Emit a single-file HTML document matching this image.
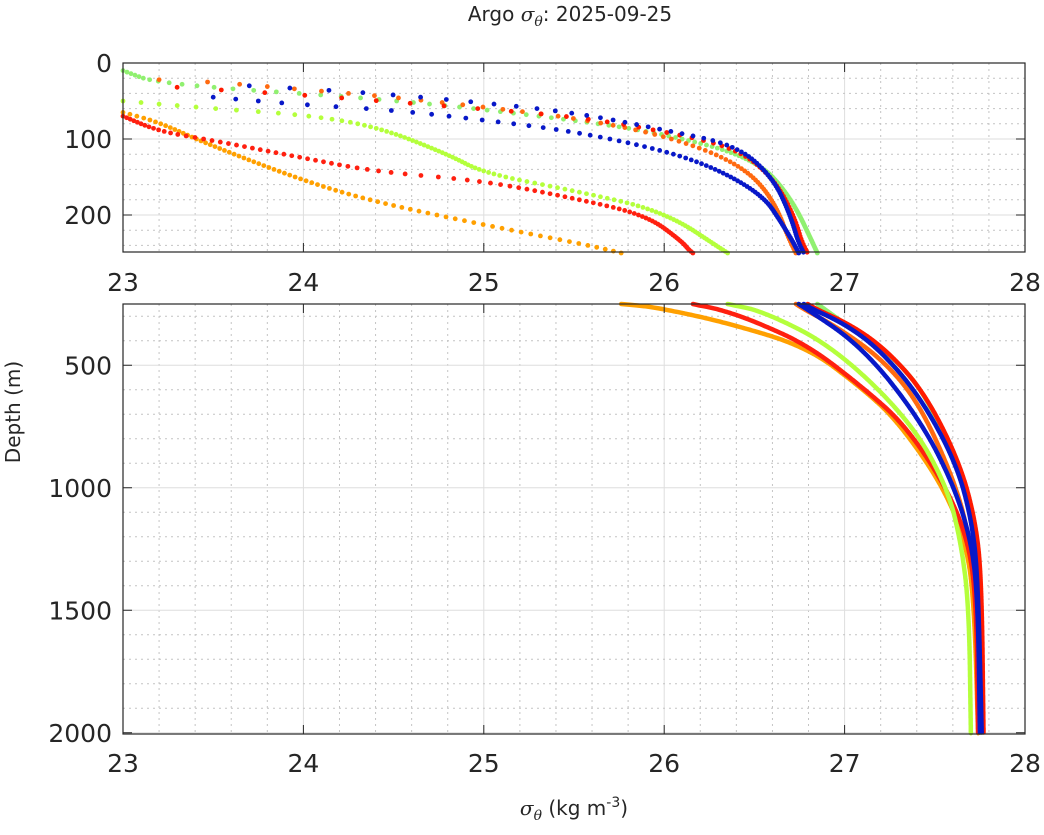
<!DOCTYPE html>
<html><head><meta charset="utf-8"><style>
html,body{margin:0;padding:0;background:#fff;}
svg{display:block;font-family:"DejaVu Sans","Liberation Sans",sans-serif;}
</style></head><body>
<svg id="s" width="1044" height="835" xmlns="http://www.w3.org/2000/svg"></svg>
<script>
const S=document.getElementById('s');const NS='http://www.w3.org/2000/svg';
function el(t,a,p){const e=document.createElementNS(NS,t);for(const k in a)e.setAttribute(k,a[k]);(p||S).appendChild(e);return e;}
const X0=123,X1=1025;const sx=v=>X0+(v-23)*(X1-X0)/5;
const T0=63,T1=252;const tyf=d=>T0+d*0.76;
const B0=304,B1=734;const byf=d=>B0+(d-250)*0.245;
function grid(y0,y1,ymin,ymax,yf,major,minor){
  for(let v=23.2;v<28;v+=0.2){if(Math.abs(v-Math.round(v))<0.01)continue;el('line',{x1:sx(v),x2:sx(v),y1:y0,y2:y1,stroke:'#c4c4c4','stroke-width':1,'stroke-dasharray':'2,4'});}
  for(let v=24;v<28;v++)el('line',{x1:sx(v),x2:sx(v),y1:y0,y2:y1,stroke:'#dedede','stroke-width':1});
  for(let d=Math.ceil(ymin/minor)*minor;d<=ymax;d+=minor){const y=yf(d);if(y<=y0||y>=y1)continue;
    if(d%major==0)el('line',{x1:X0,x2:X1,y1:y,y2:y,stroke:'#dedede','stroke-width':1});
    else el('line',{x1:X0,x2:X1,y1:y,y2:y,stroke:'#c4c4c4','stroke-width':1,'stroke-dasharray':'2,4'});}
}
grid(T0,T1,0,250,tyf,100,20);
grid(B0,B1,250,2005,byf,500,100);
function chaikin(k,n){let p=k.map(a=>[a[0],a[1]]);for(let it=0;it<n;it++){const q=[p[0]];for(let i=0;i<p.length-1;i++){const a=p[i],b=p[i+1];q.push([a[0]*0.75+b[0]*0.25,a[1]*0.75+b[1]*0.25]);q.push([a[0]*0.25+b[0]*0.75,a[1]*0.25+b[1]*0.75]);}q.push(p[p.length-1]);p=q;}return p;}
function interp(k,d){for(let i=0;i<k.length-1;i++){if(d>=k[i][1]&&d<=k[i+1][1]){const t=(d-k[i][1])/(k[i+1][1]-k[i][1]||1);return k[i][0]+t*(k[i+1][0]-k[i][0]);}}return null;}
const series=[
 {c:'#90f070',k:[[23,10],[23.2,28],[24.5,48],[25.5,75],[26,93],[26.5,125],[26.7,175],[26.85,250],[27.0,330],[27.25,450],[27.45,620],[27.62,900],[27.72,1150],[27.76,1450],[27.76,2000]],gap:2},
 {c:'#ff6a10',k:[[23.2,22],[23.5,25],[24,35],[24.5,45],[25,58],[25.5,72],[26,95],[26.4,130],[26.6,175],[26.72,250],[26.95,340],[27.2,470],[27.4,640],[27.58,920],[27.68,1150],[27.73,1450],[27.75,2000]],gap:3},
 {c:'#ffa000',k:[[23,65],[23.2,78],[23.45,105],[24,155],[24.4,183],[25,213],[25.8,250],[26.0,270],[26.35,327],[26.79,425],[27.08,584],[27.29,723],[27.55,997],[27.68,1241],[27.72,1500],[27.74,2005]],gap:2.5},
 {c:'#ff2010',k:[[23,70],[23.2,90],[23.5,102],[24,125],[24.4,143],[25,155],[25.5,178],[25.9,200],[26.1,235],[26.15,250],[26.3,270],[26.5,320],[26.8,420],[27.1,590],[27.33,740],[27.55,980],[27.68,1200],[27.73,1450],[27.74,2000]],gap:2},
 {c:'#b4ff3c',k:[[23,50],[23.5,60],[24,68],[24.4,83],[24.8,120],[25,145],[25.5,168],[26,195],[26.35,250],[26.55,280],[26.94,425],[27.36,723],[27.57,997],[27.65,1241],[27.69,1500],[27.7,2005]],gap:2},
 {c:'#0818c8',k:[[23.5,45],[24,55],[24.5,62],[25,75],[25.5,90],[26,115],[26.3,140],[26.55,175],[26.65,210],[26.75,250],[27.1,425],[27.42,723],[27.61,997],[27.71,1241],[27.74,1500],[27.75,2000]],gap:2.5},
 {c:'#ff1a00',k:[[23.3,32],[24,42],[24.7,55],[25.5,70],[26,90],[26.4,112],[26.6,150],[26.72,200],[26.78,250],[27.05,340],[27.25,450],[27.45,620],[27.64,900],[27.73,1150],[27.76,1400],[27.77,2000]],gap:3.5},
 {c:'#0818c8',k:[[23.7,30],[24.3,38],[24.9,50],[25.5,65],[26,88],[26.4,108],[26.6,150],[26.7,200],[26.76,250],[27.0,330],[27.2,440],[27.42,630],[27.62,900],[27.71,1150],[27.74,1400],[27.76,2000]],gap:3}
];
const gT=el('g',{});const gB=el('g',{});
for(const s of series){
  const k=chaikin(s.k,4);
  const dmin=s.k[0][1];let pts=[];
  for(let d=dmin;d<=250;d+=s.gap){const v=interp(k,d);if(v==null||v<23)continue;el('circle',{cx:sx(v),cy:tyf(d),r:2.4,fill:s.c},gT);}
  for(let d=250;d<=2002;d+=3){const v=interp(k,d);if(v==null)continue;pts.push(sx(v).toFixed(1)+','+byf(d).toFixed(1));}
  el('polyline',{points:pts.join(' '),fill:'none',stroke:s.c,'stroke-width':4.5,'stroke-linecap':'round','stroke-linejoin':'round'},gB);
}
el('rect',{x:X0,y:T0,width:X1-X0,height:T1-T0,fill:'none',stroke:'#262626','stroke-width':1.2});
el('rect',{x:X0,y:B0,width:X1-X0,height:B1-B0,fill:'none',stroke:'#262626','stroke-width':1.2});
function txt(x,y,t,sz,anc){const e=el('text',{x:x,y:y,'font-size':sz,fill:'#262626','text-anchor':anc||'middle'});e.textContent=t;return e;}
for(let v=23;v<=28;v++){
  txt(sx(v),291,String(v),25);txt(sx(v),772,String(v),25);
  for(const [a,b] of [[T0,T1],[B0,B1]]){el('line',{x1:sx(v),x2:sx(v),y1:a,y2:a+9,stroke:'#262626'});el('line',{x1:sx(v),x2:sx(v),y1:b,y2:b-9,stroke:'#262626'});}
}
for(const d of [0,100,200]){txt(112,tyf(d)+9,String(d),25,'end');el('line',{x1:X0,x2:X0+9,y1:tyf(d),y2:tyf(d),stroke:'#262626'});el('line',{x1:X1,x2:X1-9,y1:tyf(d),y2:tyf(d),stroke:'#262626'});}
for(const d of [500,1000,1500,2000]){txt(112,byf(d)+9,String(d),25,'end');el('line',{x1:X0,x2:X0+9,y1:byf(d),y2:byf(d),stroke:'#262626'});el('line',{x1:X1,x2:X1-9,y1:byf(d),y2:byf(d),stroke:'#262626'});}
</script>
<svg width="1044" height="835" style="position:absolute;left:0;top:0" xmlns="http://www.w3.org/2000/svg">
<text x="570" y="21" font-size="20" fill="#262626" text-anchor="middle" font-family="DejaVu Sans, Liberation Sans, sans-serif">Argo <tspan font-style="italic" font-family="DejaVu Serif, Liberation Serif, serif">σ</tspan><tspan font-style="italic" font-size="14" dy="5" font-family="DejaVu Serif, Liberation Serif, serif">θ</tspan><tspan dy="-5">: 2025-09-25</tspan></text>
<text x="574" y="815" font-size="20" fill="#262626" text-anchor="middle" font-family="DejaVu Sans, Liberation Sans, sans-serif"><tspan font-style="italic" font-family="DejaVu Serif, Liberation Serif, serif">σ</tspan><tspan font-style="italic" font-size="14" dy="5" font-family="DejaVu Serif, Liberation Serif, serif">θ</tspan><tspan dy="-5"> (kg m</tspan><tspan font-size="14" dy="-8">-3</tspan><tspan dy="8">)</tspan></text>
<text x="20" y="412" font-size="20" fill="#262626" text-anchor="middle" transform="rotate(-90 20 412)" font-family="DejaVu Sans, Liberation Sans, sans-serif">Depth (m)</text>
</svg>
</body></html>
